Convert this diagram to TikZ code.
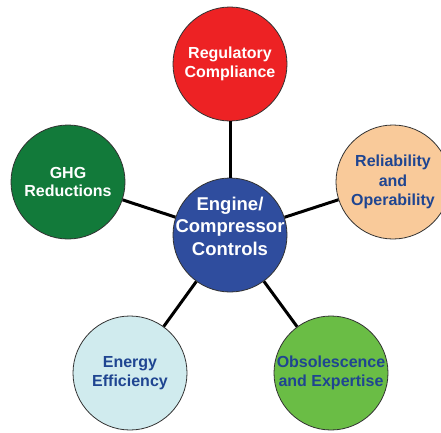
\documentclass[tikz,border=0pt]{standalone}
\usepackage{fontspec}
\setmainfont{Liberation Sans}
\definecolor{regred}{RGB}{237,34,36}
\definecolor{hubblue}{RGB}{47,77,158}
\definecolor{ghggreen}{RGB}{18,122,58}
\definecolor{relpeach}{RGB}{249,202,154}
\definecolor{efflight}{RGB}{208,235,238}
\definecolor{obsgreen}{RGB}{106,189,69}
\definecolor{txtblue}{RGB}{31,69,145}
\tikzset{
  bubble/.style={circle,draw=black!80,line width=0.8pt,minimum size=114pt,
    inner sep=0pt,align=center,font=\bfseries\fontsize{16}{18.5}\selectfont},
  link/.style={line width=3pt}
}

\begin{document}
\begin{tikzpicture}[x=1pt,y=-1pt]
    \useasboundingbox (0,0) rectangle (441,432);
    \node[bubble,fill=hubblue] (ctrl) at (230,235) {};
    \node[align=center,text=white,font=\bfseries\fontsize{18.5}{22.5}\selectfont]
      (ctrllbl) at ([yshift=9]ctrl.center) {Engine/\\Compressor\\Controls};
    \node[bubble,fill=regred,text=white] (reg) at (230,64) {Regulatory\\Compliance};
    \node[bubble,fill=relpeach,text=txtblue,font=\bfseries\fontsize{16}{19.5}\selectfont]
      (rel) at (393,182) {Reliability\\and\\Operability};
    \node[bubble,fill=obsgreen,text=txtblue] (obs) at (331,373) {Obsolescence\\and Expertise};
    \node[bubble,fill=efflight,text=txtblue] (eff) at (130,373) {Energy\\Efficiency};
    \node[bubble,fill=ghggreen,text=white] (ghg) at (68,182) {GHG\\Reductions};
    \foreach \n in {reg,rel,obs,eff,ghg}
      \draw[link] (ctrl) -- (\n);
\end{tikzpicture}
\end{document}
